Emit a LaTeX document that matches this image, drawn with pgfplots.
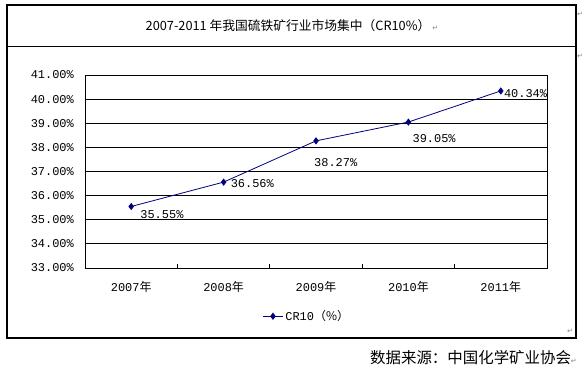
\documentclass[border=0pt]{standalone}
\usepackage{fontspec}
\usepackage{pgfplots}
\pgfplotsset{compat=1.18}
\setmainfont{Noto Sans CJK SC}
\newfontfamily\mono{Liberation Mono}
\newfontfamily\dejavu{DejaVu Sans}
\newcommand{\parmark}{\textcolor{gray}{\dejavu\fontsize{7}{8}\selectfont ↵}}
\definecolor{navy}{RGB}{0,0,128}
\pgfplotsset{
  lbl/.style n args={2}{forget plot, draw=none, mark=none, point meta=y,
    nodes near coords={\pgfmathprintnumber[fixed,fixed zerofill,precision=2,assume math mode=true]{\pgfplotspointmeta}\%},
    nodes near coords style={anchor=west, inner sep=0pt, xshift=#1bp, yshift=#2bp, font=\mono\fontsize{12}{13}\selectfont, text=black}},
}
\begin{document}
\begin{tikzpicture}
\path[use as bounding box] (0bp,0bp) rectangle (583bp,376bp);
\draw[line width=1.1bp] (7bp,371bp) rectangle (576bp,38bp);
\draw[line width=1bp] (7bp,329bp) -- (576bp,329bp);
\node[inner sep=0pt] at (292bp,350bp) {\fontsize{12.8}{14}\selectfont 2007-2011 年我国硫铁矿行业市场集中（CR10\%）\,\parmark};
\node[inner sep=0pt] at (580bp,362bp) {\parmark};
\node[inner sep=0pt] at (580bp,320bp) {\parmark};
\node[inner sep=0pt] at (570bp,45bp) {\parmark};
\node[anchor=east,inner sep=0pt] at (577bp,18bp) {\fontsize{15.5}{17}\selectfont 数据来源：中国化学矿业协会\parmark};
\begin{axis}[
  at={(85bp,108bp)}, anchor=south west,
  scale only axis, width=462bp, height=193bp,
  xmin=-0.5, xmax=4.5, ymin=33, ymax=41,
  ytick={33,34,...,41},
  yticklabel={\pgfmathprintnumber[fixed,fixed zerofill,precision=2,assume math mode=true]{\tick}\%},
  yticklabel style={font=\mono\fontsize{12}{13}\selectfont, inner sep=0pt, xshift=-11bp},
  ymajorgrids, major grid style={black, line width=0.9bp},
  ytick style={draw=none},
  xtick={0.5,1.5,2.5,3.5}, xticklabels={},
  xtick pos=bottom, tick align=inside, major tick length=4bp,
  xtick style={black, line width=0.8bp},
  extra x ticks={0,1,2,3,4},
  extra x tick labels={{\mono 2007}年,{\mono 2008}年,{\mono 2009}年,{\mono 2010}年,{\mono 2011}年},
  extra x tick style={major tick length=0pt, grid=none, xticklabel style={font=\fontsize{12}{13}\selectfont, inner sep=0pt, yshift=-13bp}},
  axis line style={black, line width=0.9bp},
  legend style={at={(0.48,-0.25)}, anchor=center, draw=none, font=\fontsize{12}{13}\selectfont, inner sep=0pt},
  legend image code/.code={\draw[#1, mark repeat=2, mark phase=2] plot coordinates {(0bp,0bp) (10bp,0bp) (20bp,0bp)};},
]
\addplot[color=navy, line width=0.8bp, mark=diamond*, mark size=3bp, mark options={fill=navy}] coordinates {(0,35.55) (1,36.56) (2,38.27) (3,39.05) (4,40.34)};
\addlegendentry{{\mono CR10}（\%）}
\addplot[lbl={9}{-8}] coordinates {(0,35.55)};
\addplot[lbl={7}{-1}] coordinates {(1,36.56)};
\addplot[lbl={-2}{-22}] coordinates {(2,38.27)};
\addplot[lbl={4}{-17}] coordinates {(3,39.05)};
\addplot[lbl={3}{-3}] coordinates {(4,40.34)};
\end{axis}
\end{tikzpicture}
\end{document}
